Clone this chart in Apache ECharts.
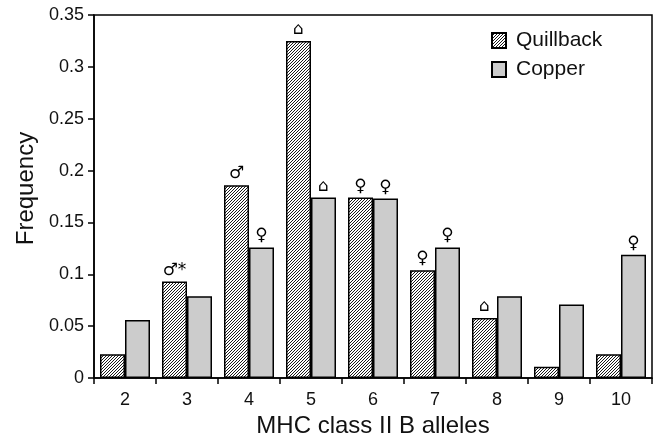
<!DOCTYPE html>
<html>
<head>
<meta charset="utf-8">
<script src="https://cdn.jsdelivr.net/npm/echarts@6/dist/echarts.min.js"></script>
<style>
html,body{margin:0;padding:0;background:#fff;}
#c{width:654px;height:443px;}
</style>
</head>
<body>
<div id="c"></div>
<script>
var categories = ['2','3','4','5','6','7','8','9','10'];
var quillback = [0.023, 0.093, 0.186, 0.325, 0.174, 0.104, 0.058, 0.011, 0.023];
var copper    = [0.056, 0.079, 0.126, 0.174, 0.173, 0.126, 0.079, 0.071, 0.119];
var quillbackMarks = ['', '\u2642*', '\u2642', '\u2302', '\u2640', '\u2640', '\u2302', '', ''];
var copperMarks    = ['', '', '\u2640', '\u2302', '\u2640', '\u2640', '', '', '\u2640'];
var yTicks = [0, 0.05, 0.1, 0.15, 0.2, 0.25, 0.3, 0.35];

function hatch() {
  var c = document.createElement('canvas');
  c.width = 3; c.height = 3;
  var g = c.getContext('2d');
  g.fillStyle = '#fff'; g.fillRect(0, 0, 3, 3);
  g.strokeStyle = '#000'; g.lineWidth = 0.9;
  g.beginPath();
  g.moveTo(-1, 4); g.lineTo(4, -1);
  g.moveTo(-1, 1); g.lineTo(1, -1);
  g.moveTo(2, 4); g.lineTo(4, 2);
  g.stroke();
  return c;
}

var font = 'Liberation Sans, Arial, sans-serif';
var chart = echarts.init(document.getElementById('c'), null, {renderer: 'canvas'});
function markLabel(marks) {
  return {
    show: true, position: 'top', distance: 3,
    fontFamily: 'DejaVu Sans', fontSize: 17, color: '#000',
    formatter: function (p) { return marks[p.dataIndex]; }
  };
}
chart.setOption({
  animation: false,
  backgroundColor: '#fff',
  grid: {left: 94, right: 2, top: 15, bottom: 62, show: true, borderColor: '#000', borderWidth: 1.5, backgroundColor: 'transparent'},
  legend: {
    left: 491, top: 30, orient: 'vertical', itemWidth: 14, itemHeight: 15, itemGap: 8, padding: 0,
    icon: 'rect',
    textStyle: {fontFamily: font, fontSize: 21, color: '#111', padding: [0, 0, 0, 5]},
    data: ['Quillback', 'Copper']
  },
  xAxis: {
    type: 'category', data: categories,
    name: 'MHC class II B alleles', nameLocation: 'middle', nameGap: 32,
    nameTextStyle: {fontFamily: font, fontSize: 24, color: '#111'},
    axisLine: {lineStyle: {color: '#000', width: 1.5}},
    axisTick: {show: true, length: 6, lineStyle: {color: '#000', width: 1.5}},
    axisLabel: {fontFamily: font, fontSize: 18, color: '#111', margin: 13}
  },
  yAxis: {
    type: 'value', min: 0, max: 0.35, interval: 0.05,
    name: 'Frequency', nameLocation: 'middle', nameGap: 56,
    nameTextStyle: {fontFamily: font, fontSize: 24, color: '#111', padding: [0, 0, 0, 16]},
    axisLine: {show: true, lineStyle: {color: '#000', width: 1.5}},
    axisTick: {show: true, length: 6, lineStyle: {color: '#000', width: 1.5}},
    splitLine: {show: false},
    axisLabel: {fontFamily: font, fontSize: 18, color: '#111', margin: 10,
      formatter: function (v) { var i = yTicks.indexOf(Math.round(v * 100) / 100); return i >= 0 ? String(yTicks[i]) : ''; }}
  },
  series: [
    {name: 'Quillback', type: 'bar', data: quillback, barWidth: 25, barGap: '0%',
     itemStyle: {color: {image: hatch(), repeat: 'repeat'}, borderColor: '#000', borderWidth: 1.5},
     label: markLabel(quillbackMarks)},
    {name: 'Copper', type: 'bar', data: copper, barWidth: 25,
     itemStyle: {color: '#cccccc', borderColor: '#000', borderWidth: 1.5},
     label: markLabel(copperMarks)}
  ]
});
</script>
</body>
</html>
